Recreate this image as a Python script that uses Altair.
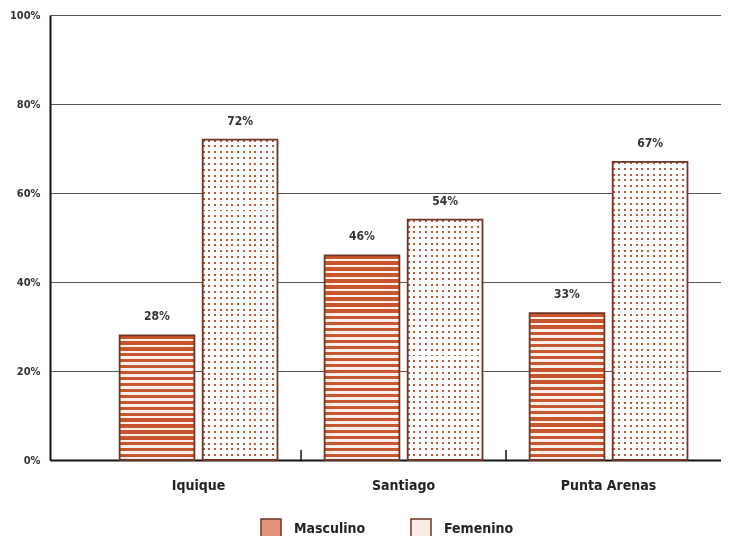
import altair as alt
import pandas as pd

cities = ["Iquique", "Santiago", "Punta Arenas"]
sexes = ["Masculino", "Femenino"]
masculino = [28, 46, 33]
femenino = [72, 54, 67]
tick_cities = ["Santiago", "Punta Arenas"]
y_ticks = [0, 20, 40, 60, 80, 100]

rows = []
for c, m, f in zip(cities, masculino, femenino):
    rows.append({"city": c, "sex": "Masculino", "value": m})
    rows.append({"city": c, "sex": "Femenino", "value": f})
df = pd.DataFrame(rows)
ticks_df = pd.DataFrame({"city": tick_cities})

FONT = "DejaVu Sans Condensed, sans-serif"
ORANGE = "#c9552e"
LIGHT = "#fdf0ea"
MID = "#e2937a"
BORDER = "#6e3526"
DOT = "#b85a3c"
FEM_FILL = "#f9ece6"
W, H = 671, 445
PERIOD = 6.0
DOT_PERIOD = 5.8
PAD_INNER = 0.23
PAD_OUTER = 0.2516
STEP = W / (3 - PAD_INNER + 2 * PAD_OUTER)


def stripes(n, color, duty, horizontal=True):
    gap = "#ffffff" if color == DOT else LIGHT
    stops = []
    for i in range(n):
        a = i / n
        b = (i + duty) / n
        c = (i + 1) / n
        stops += [
            {"offset": a, "color": color},
            {"offset": b, "color": color},
            {"offset": b, "color": gap},
            {"offset": c, "color": gap},
        ]
    if horizontal:
        return {"gradient": "linear", "x1": 0, "y1": 0, "x2": 0, "y2": 1, "stops": stops}
    return {"gradient": "linear", "x1": 0, "y1": 0, "x2": 1, "y2": 0, "stops": stops}


xscale = alt.Scale(domain=cities, paddingInner=PAD_INNER, paddingOuter=PAD_OUTER, align=0.675)
xoff = alt.XOffset("sex:N", scale=alt.Scale(domain=sexes, paddingInner=0.1))
yscale = alt.Scale(domain=[0, 100])
x_plain = alt.X("city:N", scale=xscale, sort=cities)
y_plain = alt.Y("value:Q", scale=yscale)

x_enc = alt.X(
    "city:N",
    scale=xscale,
    sort=cities,
    title=None,
    axis=alt.Axis(
        labelFont=FONT, labelFontSize=14, labelFontWeight="bold", labelColor="#222",
        labelPadding=18, ticks=False, domainColor="#111", domainWidth=2, labelAngle=0,
    ),
)
y_enc = alt.Y(
    "value:Q",
    scale=yscale,
    title=None,
    axis=alt.Axis(
        values=y_ticks, labelExpr="datum.value + '%'", labelFont=FONT, labelFontSize=11,
        labelFontWeight="bold", labelColor="#333", labelPadding=10, ticks=False,
        domainColor="#111", domainWidth=2, grid=True, gridColor="#555", gridWidth=1,
    ),
)

legend = alt.Legend(
    title=None, orient="none", direction="horizontal", legendX=210, legendY=503,
    symbolType="square", symbolSize=400, symbolStrokeWidth=1.5, symbolStrokeColor=BORDER,
    symbolOpacity=1,
    labelFont=FONT, labelFontSize=14, labelFontWeight="bold", labelColor="#222",
    labelOffset=12, columnPadding=42,
)

bars = alt.Chart(df).mark_bar().encode(
    x=x_enc,
    xOffset=xoff,
    y=y_enc,
    fill=alt.Fill("sex:N", scale=alt.Scale(domain=sexes, range=[MID, FEM_FILL]), legend=legend),
)

pattern_layers = []
for c, m in zip(cities, masculino):
    n = int(round(m / 100 * H / PERIOD))
    pattern_layers.append(
        alt.Chart(df)
        .transform_filter((alt.datum.city == c) & (alt.datum.sex == "Masculino"))
        .mark_bar(color=stripes(n, ORANGE, 0.55))
        .encode(x=x_plain, xOffset=xoff, y=y_plain)
    )

bar_w = STEP * (1 - PAD_INNER) / (2 - 0.1) * 0.9
n_cols = int(round(bar_w / DOT_PERIOD))
pattern_layers.append(
    alt.Chart(df)
    .transform_filter(alt.datum.sex == "Femenino")
    .mark_bar(color=stripes(n_cols, DOT, 0.34, horizontal=False))
    .encode(x=x_plain, xOffset=xoff, y=y_plain)
)
for c, f in zip(cities, femenino):
    n = int(round(f / 100 * H / DOT_PERIOD))
    pattern_layers.append(
        alt.Chart(df)
        .transform_filter((alt.datum.city == c) & (alt.datum.sex == "Femenino"))
        .mark_bar(color=stripes(n, DOT, 0.34), blend="lighten")
        .encode(x=x_plain, xOffset=xoff, y=y_plain)
    )

outlines = (
    alt.Chart(df)
    .mark_bar(fillOpacity=0, stroke=BORDER, strokeWidth=1.8)
    .encode(x=x_plain, xOffset=xoff, y=y_plain)
)

labels = (
    alt.Chart(df)
    .transform_calculate(label="datum.value + '%'")
    .mark_text(font=FONT, fontSize=12, fontWeight="bold", color="#333", baseline="bottom", dy=-12)
    .encode(x=x_plain, xOffset=xoff, y=y_plain, text="label:N")
)

tick_rules = (
    alt.Chart(ticks_df)
    .mark_rule(color="#111", strokeWidth=1.5, xOffset=-PAD_INNER * STEP / 2)
    .encode(
        x=alt.X("city:N", scale=xscale, sort=cities, bandPosition=0),
        y=alt.value(H),
        y2=alt.value(H - 10),
    )
)

chart = (
    alt.layer(bars, *pattern_layers, outlines, labels, tick_rules)
    .properties(
        width=W, height=H,
        autosize=alt.AutoSizeParams(type="none"),
        padding={"left": 42, "top": 7, "right": 0, "bottom": 76},
    )
    .configure_view(stroke=None)
    .configure(background="white")
)

chart.save("out.html", embed_options={"renderer": "svg", "actions": False})
